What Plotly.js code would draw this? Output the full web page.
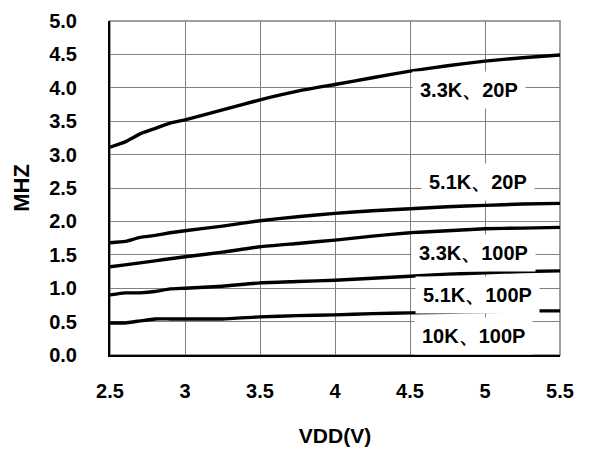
<!DOCTYPE html>
<html>
<head>
<meta charset="utf-8">
<script src="https://cdn.plot.ly/plotly-3.0.1.min.js"></script>
<style>html,body{margin:0;padding:0;background:#fff;}#chart{width:589px;height:453px;}</style>
</head>
<body>
<div id="chart"></div>
<script>
const vdd = [2.5, 2.6, 2.7, 2.8, 2.9, 3.0, 3.25, 3.5, 3.75, 4.0, 4.25, 4.5, 4.75, 5.0, 5.25, 5.5];
const f_33k_20p  = [3.11, 3.19, 3.31, 3.39, 3.47, 3.52, 3.67, 3.82, 3.95, 4.05, 4.15, 4.25, 4.33, 4.40, 4.45, 4.49];
const f_51k_20p  = [1.68, 1.70, 1.76, 1.79, 1.83, 1.86, 1.93, 2.01, 2.07, 2.12, 2.16, 2.19, 2.22, 2.24, 2.26, 2.27];
const f_33k_100p = [1.32, 1.35, 1.38, 1.41, 1.44, 1.47, 1.54, 1.62, 1.67, 1.72, 1.78, 1.83, 1.86, 1.89, 1.90, 1.91];
const f_51k_100p = [0.90, 0.93, 0.93, 0.95, 0.99, 1.00, 1.03, 1.08, 1.10, 1.12, 1.15, 1.18, 1.21, 1.23, 1.25, 1.26];
const f_10k_100p = [0.48, 0.48, 0.51, 0.54, 0.54, 0.54, 0.54, 0.57, 0.59, 0.60, 0.62, 0.63, 0.64, 0.65, 0.66, 0.66];

const seriesNames = ["3.3K、20P", "5.1K、20P", "3.3K、100P", "5.1K、100P", "10K、100P"];
const seriesData = [f_33k_20p, f_51k_20p, f_33k_100p, f_51k_100p, f_10k_100p];
const labelX = [4.89, 4.95, 4.92, 4.95, 4.92];
const labelY = [3.96, 2.59, 1.52, 0.90, 0.28];

const xTicks = [2.5, 3, 3.5, 4, 4.5, 5, 5.5];
const xTickText = ["2.5", "3", "3.5", "4", "4.5", "5", "5.5"];
const yTicks = [0, 0.5, 1, 1.5, 2, 2.5, 3, 3.5, 4, 4.5, 5];

const font = "Liberation Sans, Arial, sans-serif";

const traces = seriesData.map((ys, i) => ({
  x: vdd, y: ys, type: "scatter", mode: "lines", name: seriesNames[i],
  line: {color: "#000", width: 3.4, shape: "spline", smoothing: 0.4},
  hoverinfo: "skip", cliponaxis: false
}));

const annotations = seriesNames.map((n, i) => ({
  x: labelX[i], y: labelY[i], xref: "x", yref: "y", text: "<b>" + n + "</b>",
  showarrow: false, bgcolor: "#fff", borderpad: 7,
  font: {family: font, size: 20, color: "#000"}
}));

const layout = {
  width: 589, height: 453,
  margin: {l: 110, r: 29, t: 21, b: 98},
  paper_bgcolor: "#fff", plot_bgcolor: "#fff",
  showlegend: false,
  font: {family: font, size: 20, color: "#000"},
  xaxis: {
    range: [2.5, 5.5], tickvals: xTicks, ticktext: xTickText,
    showgrid: true, gridcolor: "#808080", gridwidth: 1,
    showline: true, linecolor: "#000", linewidth: 2,
    zeroline: false, ticks: "", ticklabelstandoff: 17,
    tickfont: {family: font, size: 20, color: "#000", weight: "bold"},
    title: {text: "<b>VDD(V)</b>", standoff: 27, font: {family: font, size: 21, color: "#000"}}
  },
  yaxis: {
    range: [0, 5], tickvals: yTicks, tickformat: ".1f",
    showgrid: true, gridcolor: "#808080", gridwidth: 1,
    showline: true, linecolor: "#000", linewidth: 2,
    zeroline: false, ticks: "", ticklabelstandoff: 27,
    tickfont: {family: font, size: 20, color: "#000", weight: "bold"},
    title: {text: "<b>MHZ</b>", standoff: 13, font: {family: font, size: 22, color: "#000"}}
  },
  shapes: [{
    type: "rect", xref: "paper", yref: "paper", x0: 0, x1: 1, y0: 0, y1: 1,
    line: {color: "#808080", width: 1.5}, layer: "below"
  }],
  annotations: annotations
};

Plotly.newPlot("chart", traces, layout, {displayModeBar: false, staticPlot: true});
</script>
</body>
</html>
